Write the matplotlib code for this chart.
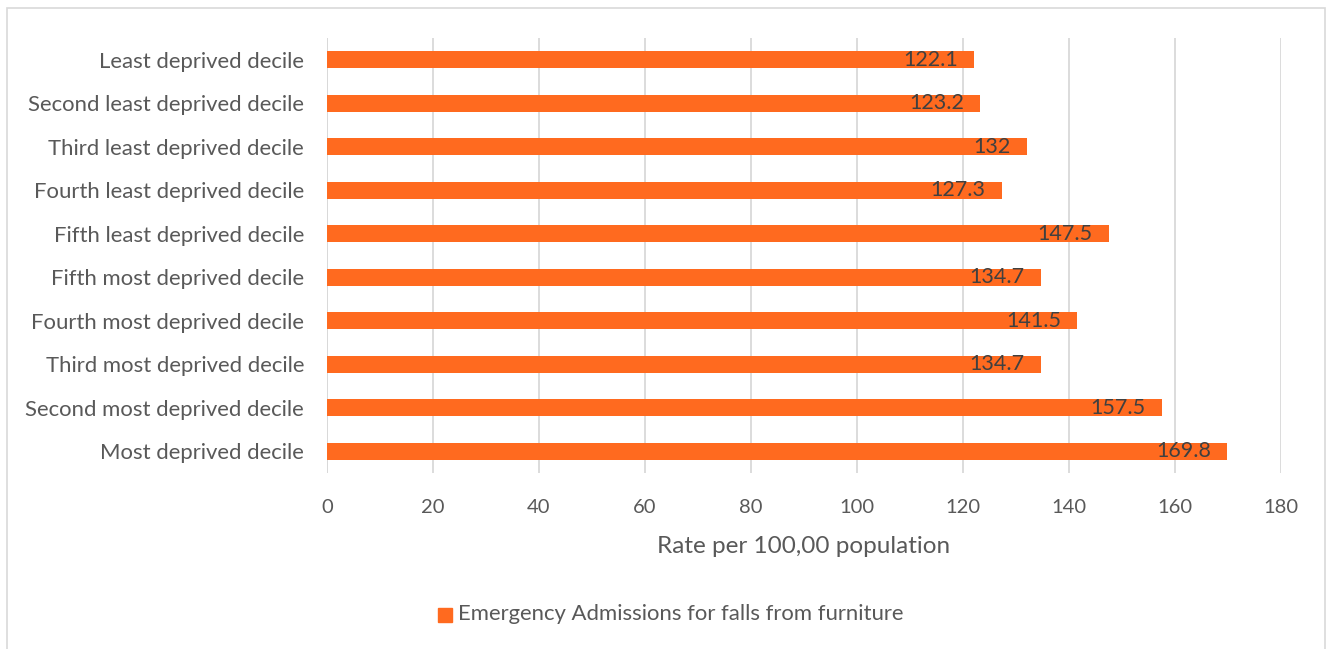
import matplotlib
matplotlib.use("Agg")
import matplotlib.pyplot as plt
from matplotlib.patches import Rectangle

categories = [
    "Least deprived decile",
    "Second least deprived decile",
    "Third least deprived decile",
    "Fourth least deprived decile",
    "Fifth least deprived decile",
    "Fifth most deprived decile",
    "Fourth most deprived decile",
    "Third most deprived decile",
    "Second most deprived decile",
    "Most deprived decile",
]
rates = [122.1, 123.2, 132, 127.3, 147.5, 134.7, 141.5, 134.7, 157.5, 169.8]
value_labels = ["122.1", "123.2", "132", "127.3", "147.5", "134.7", "141.5", "134.7", "157.5", "169.8"]
x_ticks = [0, 20, 40, 60, 80, 100, 120, 140, 160, 180]
series_name = "Emergency Admissions for falls from furniture"
x_title = "Rate per 100,00 population"

BAR = "#FF6A1F"
TEXT = "#595959"
GRID = "#D9D9D9"

plt.rcParams["font.family"] = ["Lato", "DejaVu Sans"]

W, H = 1326, 649
fig = plt.figure(figsize=(W / 100, H / 100), dpi=100)

# chart frame
fig.patches.append(Rectangle((7 / W, -0.1), (1318 / W), (H - 8) / H + 0.1,
                             transform=fig.transFigure, fill=False,
                             edgecolor="#D9D9D9", linewidth=1.2))

ax = fig.add_axes([327 / W, 1 - 473 / H, (1281 - 327) / W, (473 - 38) / H])

ypos = list(range(len(categories)))
ax.barh(ypos, rates, height=0.39, color=BAR, zorder=3)
ax.set_ylim(len(categories) - 0.5, -0.5)
ax.set_xlim(0, 180)
ax.set_yticks(ypos)
ax.set_yticklabels(categories, fontsize=15.9, color=TEXT)
ax.set_xticks(x_ticks)
ax.set_xticklabels([str(t) for t in x_ticks], fontsize=14.5, color=TEXT)
ax.tick_params(axis="both", length=0)
ax.tick_params(axis="y", pad=16.5)
ax.tick_params(axis="x", pad=19)
ax.grid(axis="x", color=GRID, linewidth=1.3, zorder=0)
for s in ax.spines.values():
    s.set_visible(False)
ax.axvline(0, color=GRID, linewidth=1.3, zorder=2)

for y, v, lab in zip(ypos, rates, value_labels):
    ax.annotate(lab, (v, y), xytext=(-16, 0), textcoords="offset pixels",
                ha="right", va="center", fontsize=15.5, color="#404040", zorder=4)

ax.set_xlabel(x_title, fontsize=17.5, color=TEXT, labelpad=14)

fig.patches.append(Rectangle((438 / W, 1 - 622 / H), 14 / W, 14 / H,
                             transform=fig.transFigure, color=BAR))
fig.text(458 / W, 1 - 614 / H, series_name, fontsize=15.9, color=TEXT,
         ha="left", va="center")

fig.savefig("out.png", dpi=100)
